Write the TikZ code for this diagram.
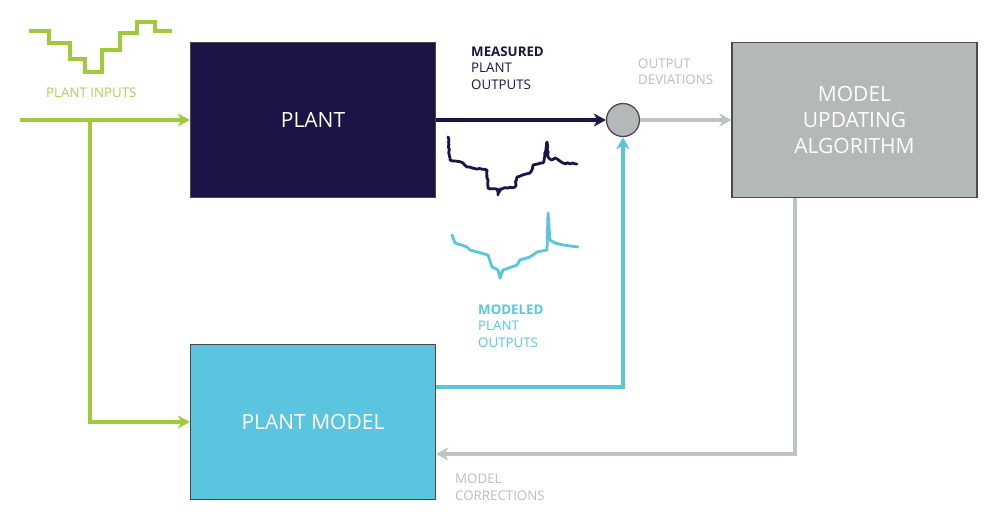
\documentclass[tikz,border=0pt]{standalone}
\usepackage{fontspec}
\setmainfont{Open Sans}
\usetikzlibrary{arrows.meta,decorations.pathmorphing}
\definecolor{navy}{HTML}{1B1446}
\definecolor{sky}{HTML}{5BC5E0}
\definecolor{boxgray}{HTML}{B3B8B8}
\definecolor{lgreen}{HTML}{9DCB3A}
\definecolor{tgreen}{HTML}{A9D25C}
\definecolor{lgray}{HTML}{BEC3C3}
\definecolor{tgray}{HTML}{BDBDBD}
\definecolor{edge}{HTML}{4A4A4A}
\tikzset{
  blockbox/.style={draw=edge, line width=1.3pt, minimum width=245pt, minimum height=155pt, inner sep=0pt, align=center, text=white, font=\fontsize{21}{26}\selectfont},
  conn/.style={line width=3.8pt, -{Stealth[length=12pt,width=13pt,inset=3.5pt]}},
  lab/.style={anchor=west, align=left, font=\fontsize{13.3}{16.5}\selectfont, inner sep=0pt},
  wave/.style={line width=2.8pt, line join=round, line cap=round},
}
\begin{document}
\begin{tikzpicture}[x=1pt,y=-1pt]
\useasboundingbox (0,0) rectangle (1000,528);
% blocks
\node[blockbox, fill=navy] (plant) at (313,120) {PLANT};
\node[blockbox, fill=sky] (model) at (313,422) {PLANT MODEL};
\node[blockbox, fill=boxgray] (algo) at (854.5,120) {MODEL\\UPDATING\\ALGORITHM};
\node[circle, draw=edge, fill=boxgray, line width=1.3pt, minimum size=33pt, inner sep=0pt] (sum) at (623,120) {};
% connectors
\coordinate (in) at (20,120);
\coordinate (br) at (90,120);
\draw[conn, lgreen] (in) -- (plant.west);
\draw[conn, lgreen] (br) |- (model.west);
\draw[conn, navy] (plant.east) -- (sum.west);
\draw[conn, sky] ([yshift=35pt]model.east) -| (sum.south);
\draw[conn, lgray] (sum.east) -- (algo.west);
\draw[conn, lgray] ([xshift=-59.5pt]algo.south) |- ([yshift=-32pt]model.east);
% labels
\node[lab, text=tgreen] (lin) at (46,93) {PLANT INPUTS};
\node[lab, text=navy] (lmeas) at (471,68) {\textbf{MEASURED}\\PLANT\\OUTPUTS};
\node[lab, text=tgray] (ldev) at (638,71.5) {OUTPUT\\DEVIATIONS};
\node[lab, text=sky] (lmod) at (478,326) {\textbf{MODELED}\\PLANT\\OUTPUTS};
\node[lab, text=tgray] (lcor) at (455,487) {MODEL\\CORRECTIONS};
% input step signal
\draw[wave, lgreen, line width=3.6pt, line cap=butt, line join=miter] (29,31) -- (49,31) -- (49,43) -- (70,43) -- (70,59) -- (85,59) -- (85,72) -- (102,72) -- (102,50) -- (120,50) -- (120,33) -- (137,33) -- (137,22) -- (155,22) -- (155,31) -- (172,31);
% measured output signal
\draw[wave, navy, decorate, decoration={random steps, segment length=2.5pt, amplitude=0.7pt}] (448,137) -- (450,160) -- (463,163) -- (467,167) -- (487,170) -- (488,188) -- (497,189) -- (498,195) -- (500,189) -- (515,187) -- (517,177) -- (530,173) -- (533,165) -- (543,163) -- (547,142) -- (548,157) -- (552,160) -- (555,158) -- (563,163) -- (577,164);
% modeled output signal
\draw[wave, sky] (452,235) -- (455,243) -- (467,247) -- (470,250) -- (488,255) -- (492,267) -- (498,270) -- (500,278) -- (503,270) -- (517,265) -- (520,260) -- (530,257) -- (537,252) -- (547,250) -- (548,213) -- (550,240) -- (555,243) -- (563,245) -- (578,247);
\end{tikzpicture}
\end{document}
